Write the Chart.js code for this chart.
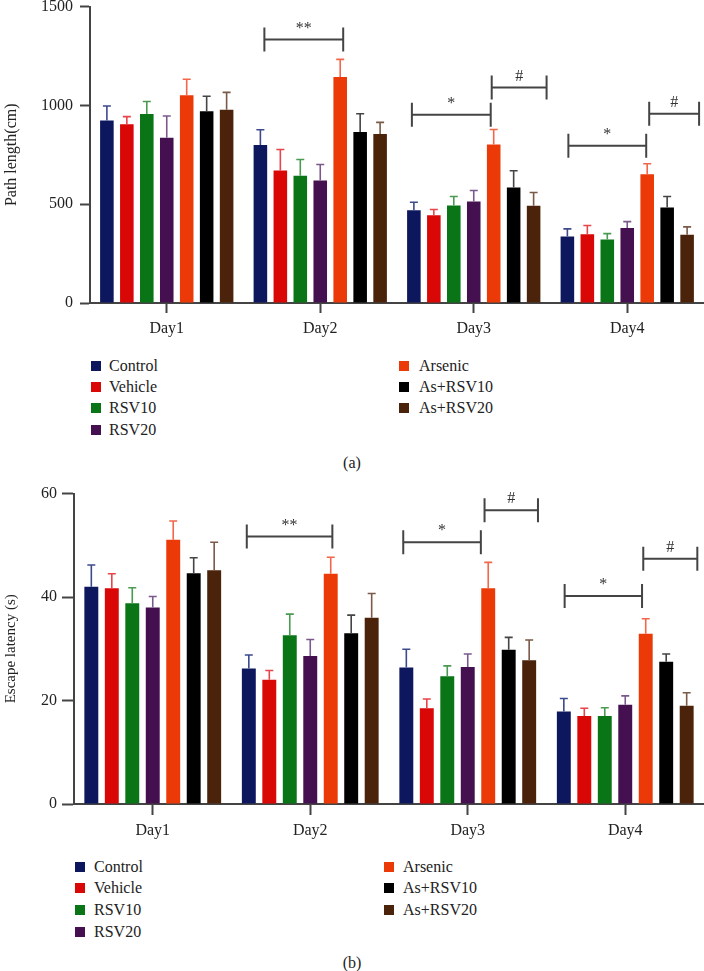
<!DOCTYPE html>
<html>
<head>
<meta charset="utf-8">
<script src="https://cdn.jsdelivr.net/npm/chart.js@4.4.1/dist/chart.umd.min.js"></script>
<style>
    html, body { margin: 0; padding: 0; background: #fff; overflow: hidden; }
    body { width: 704px; height: 971px; position: relative; font-family: 'Liberation Serif', 'DejaVu Serif', serif; color: #222; }
    canvas { position: absolute; left: 0; }
    .leg { position: absolute; font-size: 16px; line-height: 20px; white-space: nowrap; }
    .sq { position: absolute; width: 10px; height: 10px; }
    .cap { position: absolute; font-size: 16px; line-height: 20px; width: 60px; text-align: center; }
</style>
</head>
<body>
<canvas id="chartA" width="704" height="360" style="top:-10px"></canvas>
<canvas id="chartB" width="704" height="364" style="top:479px"></canvas>
<div id="legends"></div>
<div class="cap" style="left:322px; top:453px">(a)</div>
<div class="cap" style="left:322px; top:953px">(b)</div>
<script>
const days = ['Day1', 'Day2', 'Day3', 'Day4'];
const groups = ['Control', 'Vehicle', 'RSV10', 'RSV20', 'Arsenic', 'As+RSV10', 'As+RSV20'];
const barColors = ['#0c175e', '#da0707', '#0a7516', '#45104f', '#eb3a07', '#000000', '#4b220a'];
const errColors = ['#3c4a8c', '#e8444a', '#4a9a52', '#7a5a8c', '#f2664a', '#444444', '#7a5a48'];

// (a) path length, cm: mean and SEM per group, Day1..Day4
const pathMean = [
    [924, 799, 470, 336],
    [904, 671, 444, 348],
    [956, 644, 493, 321],
    [836, 620, 514, 380],
    [1051, 1144, 802, 652],
    [971, 865, 584, 483],
    [978, 855, 492, 345]
];
const pathSem = [
    [73, 78, 40, 39],
    [39, 106, 29, 44],
    [64, 82, 46, 30],
    [110, 81, 55, 32],
    [81, 89, 76, 53],
    [75, 93, 85, 56],
    [88, 59, 67, 40]
];
const pathTicks = [0, 500, 1000, 1500];

// (b) escape latency, s
const escMean = [
    [42.0, 26.2, 26.4, 17.9],
    [41.7, 24.0, 18.5, 17.0],
    [38.8, 32.6, 24.7, 17.0],
    [38.0, 28.6, 26.5, 19.2],
    [51.1, 44.5, 41.7, 32.9],
    [44.6, 33.0, 29.8, 27.5],
    [45.2, 36.0, 27.8, 19.0]
];
const escSem = [
    [4.2, 2.6, 3.5, 2.5],
    [2.8, 1.8, 1.8, 1.5],
    [3.0, 4.1, 2.0, 1.6],
    [2.1, 3.2, 2.5, 1.7],
    [3.6, 3.2, 5.0, 2.9],
    [3.0, 3.5, 2.4, 1.5],
    [5.4, 4.7, 3.9, 2.5]
];
const escTicks = [0, 20, 40, 60];

// significance brackets: day index, from/to in bar slots, height in data units
const pathBrackets = [
    { day: 1, from: 0.2, to: 4.15, y: 1333, text: '**' },
    { day: 2, from: -0.1, to: 3.85, y: 953, text: '*' },
    { day: 2, from: 3.9, to: 6.65, y: 1090, text: '#' },
    { day: 3, from: 0.05, to: 3.95, y: 796, text: '*' },
    { day: 3, from: 4.1, to: 6.6, y: 958, text: '#' }
];
const escBrackets = [
    { day: 1, from: -0.1, to: 4.08, y: 51.7, text: '**' },
    { day: 2, from: -0.15, to: 3.64, y: 50.6, text: '*' },
    { day: 2, from: 3.82, to: 6.43, y: 56.8, text: '#' },
    { day: 3, from: 0.04, to: 3.82, y: 40.2, text: '*' },
    { day: 3, from: 3.88, to: 6.52, y: 47.4, text: '#' }
];

const CAT_PCT = 0.91;
const FONT = "'Liberation Serif', 'DejaVu Serif', serif";

const extrasPlugin = {
    id: 'extras',
    afterDatasetsDraw(chart) {
        const c = chart.ctx;
        const opts = chart.options.plugins.extras;
        const xs = chart.scales.x, ys = chart.scales.y;
        // error bars (upper only)
        chart.data.datasets.forEach((ds, i) => {
            const meta = chart.getDatasetMeta(i);
            meta.data.forEach((el, j) => {
                const top = ys.getPixelForValue(ds.data[j] + opts.sem[i][j]);
                c.save();
                c.strokeStyle = errColors[i];
                c.lineWidth = 1.6;
                c.beginPath();
                c.moveTo(el.x, el.y);
                c.lineTo(el.x, top);
                c.moveTo(el.x - 4, top);
                c.lineTo(el.x + 4, top);
                c.stroke();
                c.restore();
            });
        });
        // brackets
        const pitch = xs.width / days.length * CAT_PCT / groups.length;
        opts.brackets.forEach(b => {
            const cx = xs.getPixelForValue(b.day);
            const x1 = cx + (b.from - 3) * pitch;
            const x2 = cx + (b.to - 3) * pitch;
            const y = ys.getPixelForValue(b.y);
            c.save();
            c.strokeStyle = '#444';
            c.lineWidth = 2;
            c.beginPath();
            c.moveTo(x1, y); c.lineTo(x2, y);
            c.moveTo(x1, y - 12); c.lineTo(x1, y + 12);
            c.moveTo(x2, y - 12); c.lineTo(x2, y + 12);
            c.stroke();
            c.fillStyle = '#333';
            c.font = '16px ' + FONT;
            c.textAlign = 'center';
            c.textBaseline = 'middle';
            c.fillText(b.text, (x1 + x2) / 2, y - 11);
            c.restore();
        });
    }
};

function makeChart(id, means, sems, ticks, brackets, cfg) {
    return new Chart(document.getElementById(id), {
        type: 'bar',
        data: {
            labels: days,
            datasets: groups.map((g, i) => ({
                label: g,
                data: means[i],
                backgroundColor: barColors[i],
                barPercentage: 0.68,
                categoryPercentage: CAT_PCT
            }))
        },
        options: {
            responsive: false,
            animation: false,
            layout: { padding: { top: 10, left: 0, right: 0, bottom: 0 } },
            scales: {
                x: {
                    grid: {
                        offset: false,
                        drawOnChartArea: false,
                        tickLength: cfg.xTick,
                        tickColor: '#444',
                        tickWidth: 2
                    },
                    border: { color: '#444', width: 2 },
                    ticks: { color: '#222', padding: 6, font: { family: FONT, size: 16 } },
                    afterFit: s => { s.height = cfg.xHeight; }
                },
                y: {
                    min: 0,
                    max: ticks[ticks.length - 1],
                    afterBuildTicks: s => { s.ticks = ticks.map(v => ({ value: v })); },
                    grid: {
                        drawOnChartArea: false,
                        tickLength: cfg.yTick,
                        tickColor: '#444',
                        tickWidth: 2
                    },
                    border: { color: '#444', width: 2 },
                    ticks: {
                        color: '#222',
                        padding: cfg.yPad,
                        font: { family: FONT, size: 16 },
                        callback: v => String(v)
                    },
                    title: {
                        display: true,
                        text: cfg.title,
                        color: '#222',
                        padding: { top: 2, bottom: 0 },
                        font: { family: FONT, size: cfg.titleSize }
                    },
                    afterFit: s => { s.width = cfg.left; }
                }
            },
            plugins: {
                legend: { display: false },
                tooltip: { enabled: false },
                extras: { sem: sems, brackets: brackets }
            }
        },
        plugins: [extrasPlugin]
    });
}

makeChart('chartA', pathMean, pathSem, pathTicks, pathBrackets,
    { left: 90, xHeight: 47, xTick: 10, yTick: 10, yPad: 7, title: 'Path length(cm)', titleSize: 16 });
makeChart('chartB', escMean, escSem, escTicks, escBrackets,
    { left: 74, xHeight: 39, xTick: 11, yTick: 12, yPad: 5, title: 'Escape latency (s)', titleSize: 15 });

// legends, two columns: 4 + 3
function buildLegend(rows, col1, col2) {
    const box = document.getElementById('legends');
    groups.forEach((g, i) => {
        const col = i < 4 ? col1 : col2;
        const cy = rows[i < 4 ? i : i - 4];
        const sq = document.createElement('div');
        sq.className = 'sq';
        sq.style.left = col[0] + 'px';
        sq.style.top = (cy - 5) + 'px';
        sq.style.background = barColors[i];
        box.appendChild(sq);
        const t = document.createElement('div');
        t.className = 'leg';
        t.style.left = col[1] + 'px';
        t.style.top = (cy - 10) + 'px';
        t.textContent = g;
        box.appendChild(t);
    });
}
buildLegend([366, 387, 408, 430], [91, 109], [399, 419]);
buildLegend([867, 888, 910, 932], [75, 94], [384, 403]);
</script>
</body>
</html>
